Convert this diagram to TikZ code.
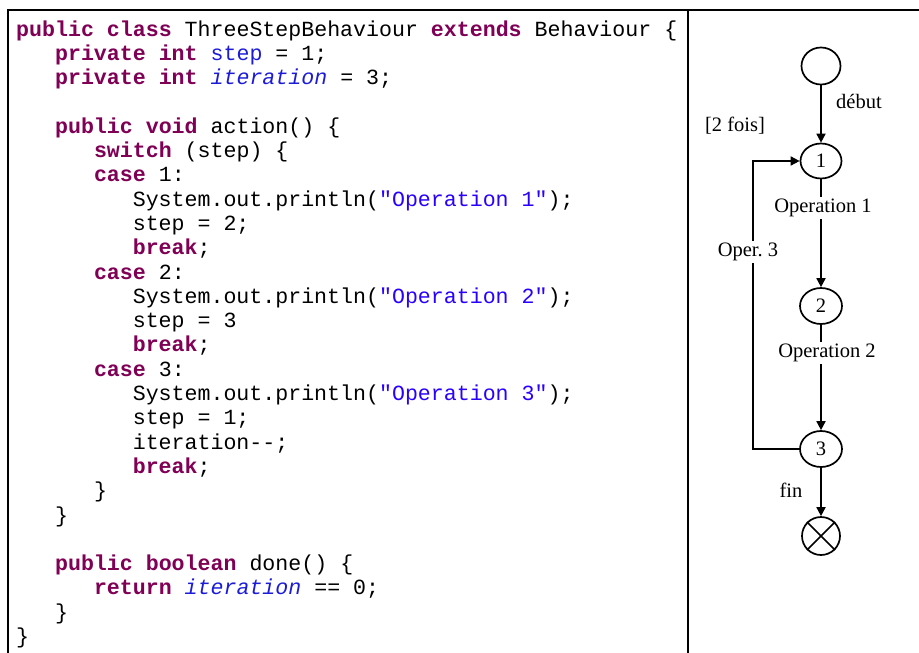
\documentclass[tikz,border=0pt]{standalone}
\usepackage{fontspec}
\setmainfont{Liberation Serif}
\setmonofont{Liberation Mono}
\usetikzlibrary{arrows.meta,shapes.geometric}
\definecolor{kwcol}{HTML}{7F0055}
\definecolor{fieldcol}{HTML}{1C1CD8}
\definecolor{strcol}{HTML}{2A00FF}
\newcommand{\kw}[1]{{\bfseries\color{kwcol}#1}}
\newcommand{\fld}[1]{{\color{fieldcol}#1}}
\newcommand{\fldit}[1]{{\color{fieldcol}\itshape#1}}
\newcommand{\strlit}[1]{{\color{strcol}#1}}
\frenchspacing
\begin{document}
\begin{tikzpicture}[x=1pt,y=-1pt,
  codeline/.style={anchor=base west,inner sep=0pt,
    font=\ttfamily\fontsize{21.6}{24.3}\selectfont},
  frame/.style={line width=1.4pt,black},
  state/.style={ellipse,draw,line width=1.7pt,inner sep=0pt,
    font=\fontsize{20.5}{24}\selectfont},
  lab/.style={inner sep=2pt,font=\fontsize{20.5}{24}\selectfont},
  flow/.style={line width=1.7pt,-{Triangle[length=9pt,width=9pt]}}]
\useasboundingbox (0,0) rectangle (919,653);

% panel frames
\draw[frame] (8,653) -- (8,10) -- (919,10);
\draw[frame] (688,10) -- (688,653);

% Java source, one node per line (columns of 12.96pt)
\node[codeline] (c1)  at (16,36)      {\kw{public class} ThreeStepBehaviour \kw{extends} Behaviour \{};
\node[codeline] (c2)  at (54.9,60.3)  {\kw{private int} \fld{step} = 1;};
\node[codeline] (c3)  at (54.9,84.6)  {\kw{private int} \fldit{iteration} = 3;};
\node[codeline] (c5)  at (54.9,133.2) {\kw{public void} action() \{};
\node[codeline] (c6)  at (93.8,157.5) {\kw{switch} (step) \{};
\node[codeline] (c7)  at (93.8,181.8) {\kw{case} 1:};
\node[codeline] (c8)  at (132.6,206.1) {System.out.println(\strlit{"Operation 1"});};
\node[codeline] (c9)  at (132.6,230.4) {step = 2;};
\node[codeline] (c10) at (132.6,254.7) {\kw{break};};
\node[codeline] (c11) at (93.8,279)   {\kw{case} 2:};
\node[codeline] (c12) at (132.6,303.3) {System.out.println(\strlit{"Operation 2"});};
\node[codeline] (c13) at (132.6,327.6) {step = 3};
\node[codeline] (c14) at (132.6,351.9) {\kw{break};};
\node[codeline] (c15) at (93.8,376.2) {\kw{case} 3:};
\node[codeline] (c16) at (132.6,400.5) {System.out.println(\strlit{"Operation 3"});};
\node[codeline] (c17) at (132.6,424.8) {step = 1;};
\node[codeline] (c18) at (132.6,449.1) {iteration--;};
\node[codeline] (c19) at (132.6,473.4) {\kw{break};};
\node[codeline] (c20) at (93.8,497.7) {\}};
\node[codeline] (c21) at (54.9,522)   {\}};
\node[codeline] (c23) at (54.9,570.6) {\kw{public boolean} done() \{};
\node[codeline] (c24) at (93.8,594.9) {\kw{return} \fldit{iteration} == 0;};
\node[codeline] (c25) at (54.9,619.2) {\}};
\node[codeline] (c26) at (16,643.5)   {\}};

% state machine
\node[state,minimum width=39pt,minimum height=37pt] (start) at (821,66) {};
\node[state,minimum width=41pt,minimum height=35pt] (n1) at (821,161) {1};
\node[state,minimum width=42pt,minimum height=36pt] (n2) at (821,306) {2};
\node[state,minimum width=42pt,minimum height=36pt] (n3) at (821,449) {3};
\node[circle,draw,line width=1.7pt,minimum size=38pt,inner sep=0pt] (stop) at (821,536) {};
\draw[line width=1.7pt] (stop.north east) -- (stop.south west)
                        (stop.north west) -- (stop.south east);

\draw[flow] (start) -- (n1);
\draw[flow] (n1) -- (n2);
\draw[flow] (n2) -- (n3);
\draw[flow] (n3) -- (stop);
\coordinate (looptop) at (753,161);
\draw[flow] (n3.west) -| (looptop) -- (n1.west);

\node[lab] (ldebut) at (859,101) {début};
\node[lab] (lfois) at (735,126) {[2 fois]};
\node[lab,fill=white] (lop1) at (823,208) {Operation 1};
\node[lab,fill=white] (lop2) at (827,353) {Operation 2};
\node[lab,fill=white] (lop3) at (748,252) {Oper. 3};
\node[lab] (lfin) at (791,490) {fin};
\end{tikzpicture}
\end{document}
